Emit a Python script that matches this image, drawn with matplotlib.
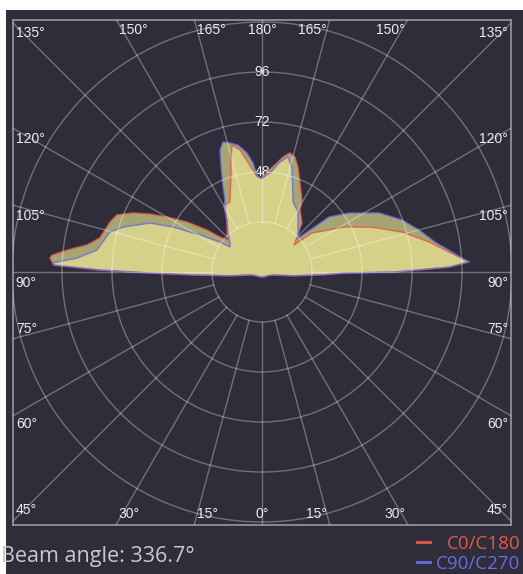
import numpy as np
import matplotlib.pyplot as plt
from matplotlib.patches import Circle, Rectangle
from matplotlib.lines import Line2D

# Polar intensity data (angle from nadir in degrees, intensity in cd/klm)
# C0 (right half) and C180 (left half) -> red curve
c0_gamma = [0, 30, 60, 75, 83, 87.5, 89.3, 90, 91.5, 92.8, 93.4, 96.1, 100.2, 105.9, 112.2,
            118.5, 128, 130.2, 135, 140.8, 148.5, 150.9, 156.9, 161.1, 164, 166.8, 169.7,
            172.2, 177.1, 180]
c0_vals = [2.4, 2.6, 3.5, 5.5, 15, 30, 40, 64, 90, 99.5, 97.6, 90.3, 81.5, 69.9, 57.0,
           45.3, 30.4, 20.1, 23.8, 30.4, 34.9, 39.5, 46.5, 53.3, 57.4, 58.7, 56.1,
           52.8, 48.1, 45]

c180_gamma = [0, 30, 60, 75, 83, 87.5, 89.5, 90.7, 91.9, 93.8, 94.6, 96.4, 98.8, 101.9, 108.2,
              111.5, 114.6, 117.4, 120.1, 123.7, 127.4, 129.8, 133.3, 136.6, 143.3, 151.1,
              155.4, 162.3, 164.5, 166.7, 169.8, 177, 180]
c180_vals = [2.4, 2.6, 3.5, 5.5, 15, 33, 54, 78, 100, 102, 101.1, 94.2, 85, 79.5, 76.8,
             74.8, 68.1, 60.5, 52.7, 43.3, 33.2, 26.2, 22.4, 24.4, 28.1, 36.7,
             37, 48.9, 55.8, 62.6, 59.5, 46, 45]

# C90 (right half) and C270 (left half) -> blue curve
c90_gamma = [0, 30, 60, 75, 83, 87.5, 89.3, 90, 91.5, 92.8, 93.4, 96.0, 99.8, 105.0, 110.4,
             116.8, 124.1, 129.4, 133.3, 135.8, 149, 156.1, 163.9, 167.3, 170.7, 175, 180]
c90_vals = [2.4, 2.6, 3.5, 5.5, 15, 30, 40, 64, 90, 99.5, 97.6, 91.7, 84.3, 78.0, 71.7,
            62.9, 50.5, 41.6, 23.1, 24.8, 33.6, 36.8, 52, 56.6, 53.5, 48.1, 45]

c270_gamma = [0, 30, 60, 75, 83, 87.5, 89.5, 90.7, 91.9, 92.5, 94.3, 97.6, 104.7, 107.9, 113.6,
              116.8, 120.8, 125.5, 128, 132.2, 138.9, 146.1, 149.7, 152.8, 155.4, 158.7,
              161, 163.3, 166.1, 169.3, 172.8, 175.3, 177, 178.8, 180]
c270_vals = [2.4, 2.6, 3.5, 5.5, 15, 33, 54, 78, 100, 100.4, 89, 79.9, 75.5, 70.1, 58.7,
             47.9, 34.7, 24.8, 19.5, 20.7, 24.8, 30.1, 36.1, 38.9, 44.9, 54.1,
             61.9, 65.2, 63.8, 62, 57.6, 52.5, 46.6, 45.1, 45]

ring_values = [24, 48, 72, 96, 120]
ring_labels = [48, 72, 96]
angle_step = 15
beam_angle = 336.7

BG = '#2e2d39'
FILL = '#f2ee98'
RED = '#e5574a'
BLUE = '#6b6be0'
LABEL = '#ececec'

W, H = 523, 574
fig = plt.figure(figsize=(W / 100, H / 100), dpi=100)
fig.patch.set_facecolor('white')
fig.patches.append(Rectangle((6 / W, 0), 1, 1 - 10 / H, transform=fig.transFigure,
                             facecolor=BG, edgecolor='none', zorder=-5))

# axes = the inner frame, centre of the polar plot at pixel (262, 272)
left, right, top, bottom = 13, 511, 20, 525
cx, cy = 262, 272
k = 50 / 24  # pixels per intensity unit
ax = fig.add_axes([left / W, 1 - bottom / H, (right - left) / W, (bottom - top) / H])
ax.set_zorder(2)
ax.set_xlim(-(cx - left) / k, (right - cx) / k)
ax.set_ylim(-(bottom - cy) / k, (cy - top) / k)
ax.set_facecolor(BG)
ax.set_xticks([])
ax.set_yticks([])
for s in ax.spines.values():
    s.set_color('#9a9a9a')
    s.set_linewidth(1.2)

xmin, xmax = ax.get_xlim()
ymin, ymax = ax.get_ylim()


def to_xy(gamma, vals, side):
    g = np.radians(np.asarray(gamma, dtype=float))
    r = np.asarray(vals, dtype=float)
    return side * r * np.sin(g), -r * np.cos(g)


def closed_curve(g_right, v_right, g_left, v_left):
    xr, yr = to_xy(g_right, v_right, 1)
    xl, yl = to_xy(g_left, v_left, -1)
    return np.r_[xr, xl[::-1]], np.r_[yr, yl[::-1]]


# ring labels sit under the fills
for v in ring_labels:
    ax.text(0, v, str(v), ha='center', va='center', color=LABEL, fontsize=10,
            family='Liberation Sans', zorder=1)

for (gr, vr, gl, vl, col) in [(c0_gamma, c0_vals, c180_gamma, c180_vals, RED),
                              (c90_gamma, c90_vals, c270_gamma, c270_vals, BLUE)]:
    x, y = closed_curve(gr, vr, gl, vl)
    ax.fill(x, y, color=FILL, alpha=0.62, lw=0, zorder=2)
    ax.plot(np.r_[x, x[0]], np.r_[y, y[0]], color=col, lw=1.0, alpha=0.85, zorder=3)

# grid drawn on top, semi transparent; spokes start at the first ring
r0 = ring_values[0]
for v in ring_values:
    ax.add_patch(Circle((0, 0), v, fill=False, ec='white', lw=1.0, alpha=0.32, zorder=4))
for a in range(0, 360, angle_step):
    t = np.radians(a)
    ax.plot([r0 * np.sin(t), 300 * np.sin(t)], [-r0 * np.cos(t), -300 * np.cos(t)],
            color='white', lw=1.0, alpha=0.32, zorder=4)

# angle labels at the frame edge
pad = 2.0
side_va = {135: ('top', -2), 120: ('top', -3), 105: ('top', -3), 90: ('top', -3),
           75: ('bottom', 2), 60: ('top', -1), 45: ('bottom', pad + 1)}
for side in (-1, 1):
    for a in range(0, 181, angle_step):
        if side == 1 and a in (0, 180):
            continue
        t = np.radians(a)
        dx, dy = side * np.sin(t), -np.cos(t)
        tx = xmax / abs(dx) if abs(dx) > 1e-9 else np.inf
        ty = (ymax if dy > 0 else -ymin) / abs(dy) if abs(dy) > 1e-9 else np.inf
        tt = min(tx, ty)
        px, py = dx * tt, dy * tt
        if abs(dx) < 1e-9:
            ha = 'center'
        else:
            ha = 'left' if side < 0 else 'right'
        if a in side_va:
            va, oy = side_va[a]
        elif dy > 0:
            va, oy = 'top', -pad
        else:
            va, oy = 'bottom', pad + 1
        ox = pad if ha == 'left' else (-pad if ha == 'right' else 0)
        ax.annotate(f'{a}°', (px, py), xytext=(ox, oy), textcoords='offset points',
                    ha=ha, va=va, color=LABEL, fontsize=10, family='Liberation Sans',
                    zorder=6, annotation_clip=False)

# footer
fig.text(1 / W, 1 - 562 / H, f'Beam angle: {beam_angle}°', color='#c9c9c9',
         fontsize=15.5, family='Open Sans', ha='left', va='baseline')
legend = [('C0/C180', RED, 549), ('C90/C270', BLUE, 569)]
for name, col, yb in legend:
    fig.text(520 / W, 1 - yb / H, name, color=col, fontsize=13.5, family='Open Sans',
             ha='right', va='baseline')
    yl = 1 - (yb - 7) / H
    fig.add_artist(Line2D([417 / W, 430 / W], [yl, yl], color=col, lw=2,
                          transform=fig.transFigure))

fig.savefig('out.png', dpi=100, facecolor=fig.get_facecolor())
